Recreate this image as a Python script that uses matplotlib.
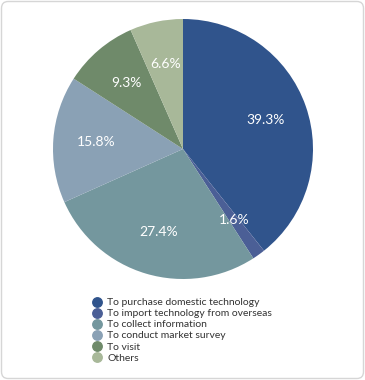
#!/usr/bin/env python3
import matplotlib
matplotlib.use("Agg")
import matplotlib.pyplot as plt
from matplotlib.lines import Line2D
from matplotlib.patches import FancyBboxPatch

plt.rcParams["font.family"] = ["Lato", "DejaVu Sans"]

# ============================================================
# Data
# ============================================================
categories = [
    "To purchase domestic technology",
    "To import technology from overseas",
    "To collect information",
    "To conduct market survey",
    "To visit",
    "Others",
]
shares = [39.3, 1.6, 27.4, 15.8, 9.3, 6.6]
colors = ["#30548c", "#4b5f96", "#74979e", "#8aa1b5", "#6f8a6a", "#a8b899"]

W, H = 365, 380
fig = plt.figure(figsize=(W / 100, H / 100), dpi=100)

# rounded frame round the whole card (kept behind the pie)
frame = FancyBboxPatch((1.5 / W, 1.5 / H), (W - 3) / W, (H - 3) / H,
                       boxstyle="round,pad=0,rounding_size=0.018",
                       transform=fig.transFigure, facecolor="none",
                       edgecolor="#d6d6d6", linewidth=1.0, zorder=-1)
fig.patches.append(frame)

# pie axes: centre (183, 149) px, radius 130 px
cx, cy, r = 183, 149, 130
ax = fig.add_axes([(cx - r) / W, (H - cy - r) / H, 2 * r / W, 2 * r / H])
wedges, texts, autotexts = ax.pie(
    shares, colors=colors, startangle=90, counterclock=False,
    autopct=lambda p: f"{p:.1f}%", pctdistance=0.67,
    wedgeprops=dict(linewidth=0),
    textprops=dict(color="white", fontsize=10),
)
ax.set_xlim(-1, 1)
ax.set_ylim(-1, 1)
ax.set_aspect("equal")
ax.axis("off")

# legend below the pie
handles = [Line2D([0], [0], marker="o", linestyle="", markersize=6.8,
                  markerfacecolor=c, markeredgecolor=c) for c in colors]
fig.legend(handles, categories, loc="upper left",
           bbox_to_anchor=(92 / W, 1 - 298 / H), frameon=False,
           fontsize=7.5, handletextpad=0.45, labelspacing=0.17,
           handlelength=1.0, borderpad=0, borderaxespad=0,
           labelcolor="#333333")

fig.savefig("out.png", dpi=100)
